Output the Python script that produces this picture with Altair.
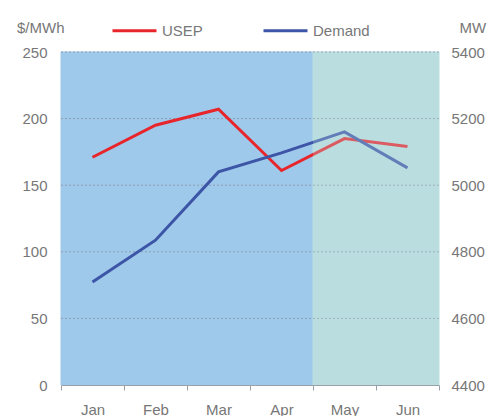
import altair as alt
import pandas as pd

months = ["Jan", "Feb", "Mar", "Apr", "May", "Jun"]
usep = [171, 195, 207, 161, 185, 179]
demand = [4709, 4835, 5040, 5097, 5160, 5052]
period = ["H1", "H1", "H1", "H1", "H2", "H2"]
series_names = ["USEP", "Demand"]
series_colors = ["#e8252b", "#3d55a6"]
left_ticks = [0, 50, 100, 150, 200, 250]
right_ticks = [4400, 4600, 4800, 5000, 5200, 5400]

df_usep = pd.DataFrame({"month": months, "value": usep, "series": "USEP"})
df_dem = pd.DataFrame({"month": months, "value": demand, "series": "Demand"})
df_bg = pd.DataFrame({"month": months, "period": period})
df_grid = pd.DataFrame({"v": left_ticks[1:]})

W, H = 378, 333
font = "Liberation Sans"
gray = "#777777"

xenc = alt.X("month:N", sort=months, title=None,
             scale=alt.Scale(paddingInner=0, paddingOuter=0),
             axis=alt.Axis(tickBand="extent", labelAngle=0, labelFontSize=15,
                           labelColor=gray, labelFont=font, domainColor="#9aa0a8",
                           tickColor="#9aa0a8", tickSize=5, labelPadding=12,
                           grid=False))

bg1 = alt.Chart(df_bg).transform_filter(alt.datum.period == "H1").mark_rect(
    color="#9ec9eb", stroke="#9ec9eb", strokeWidth=1).encode(x=xenc)
bg2 = alt.Chart(df_bg).transform_filter(alt.datum.period == "H2").mark_rect(
    color="#bbdfe0", stroke="#bbdfe0", strokeWidth=1).encode(x=xenc)
overlay = alt.Chart(df_bg).transform_filter(alt.datum.period == "H2").mark_rect(
    color="#bbdfe0", opacity=0.3).encode(x=xenc)

grid = alt.Chart(df_grid).mark_rule(color="#8d9db0", strokeWidth=1,
                                    strokeDash=[2, 2]).encode(
    y=alt.Y("v:Q", scale=alt.Scale(domain=[0, 250]), axis=None))

color = alt.Color("series:N", scale=alt.Scale(domain=series_names, range=series_colors),
                  legend=alt.Legend(title=None, orient="none", direction="horizontal",
                                    legendX=50, legendY=-45, symbolType="stroke",
                                    symbolSize=1936, symbolStrokeWidth=3,
                                    labelFontSize=15, labelColor=gray, labelFont=font,
                                    labelOffset=4, columnPadding=54, padding=0))

line_usep = alt.Chart(df_usep).mark_line(strokeWidth=3).encode(
    x=xenc,
    y=alt.Y("value:Q", scale=alt.Scale(domain=[0, 250]),
            axis=alt.Axis(values=left_ticks, title="$/MWh",
                          titleAngle=0, titleAlign="right", titleBaseline="middle",
                          titleX=3, titleY=-25, titleFontSize=15, titleFontWeight="normal",
                          titleColor=gray, titleFont=font,
                          labelFontSize=15, labelColor=gray, labelFont=font,
                          labelPadding=14, domain=False, ticks=False, grid=False)),
    color=color,
)

line_dem = alt.Chart(df_dem).mark_line(strokeWidth=3).encode(
    x=xenc,
    y=alt.Y("value:Q", scale=alt.Scale(domain=[4400, 5400]),
            axis=alt.Axis(orient="right", values=right_ticks,
                          format="d",
                          title="MW", titleAngle=0, titleAlign="left",
                          titleBaseline="middle", titleX=20, titleY=-25,
                          titleFontSize=15, titleFontWeight="normal",
                          titleColor=gray, titleFont=font,
                          labelFontSize=15, labelColor=gray, labelFont=font,
                          labelPadding=12, domain=False, ticks=False, grid=False)),
    color=color,
)

chart = alt.layer(bg1, bg2, grid, line_usep, line_dem, overlay).resolve_scale(
    y="independent"
).properties(
    width=W, height=H,
    autosize=alt.AutoSizeParams(type="none"),
    padding={"left": 53, "top": 44, "right": 48, "bottom": 31},
).configure_view(stroke=None)

chart.save("out.html", embed_options={"renderer": "svg", "actions": False})
